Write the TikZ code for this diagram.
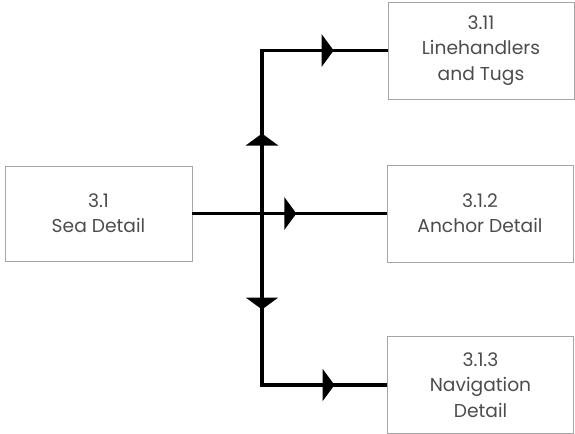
\documentclass[tikz,border=0pt]{standalone}
\usepackage{fontspec}
\setmainfont{Poppins}
\usetikzlibrary{arrows.meta,decorations.markings}
\tikzset{
  midtip/.tip={Triangle[length=9pt,width=24pt]},
  box/.style={draw=black!35,line width=.6pt,inner sep=0pt,minimum width=139.5pt,
    minimum height=72.75pt,align=center,text=black!70,font=\fontsize{14}{19}\selectfont},
  flow/.style={line width=2.4pt,line join=miter},
  tipat/.style={postaction={decorate,decoration={markings,
    mark=at position #1 with {\arrow{midtip}}}}}
}
\begin{document}
\begin{tikzpicture}[x=0.75pt,y=-0.75pt]
  \useasboundingbox (0,0) rectangle (575,433);
  \node[box,minimum width=140.25pt,minimum height=71.25pt] (sea) at (98.5,213.5) {3.1\\Sea Detail};
  \node[box] (tugs) at (481,50.5) {3.11\\Linehandlers\\and Tugs};
  \node[box] (anchor) at (480,213.5) {3.1.2\\Anchor Detail};
  \node[box] (nav) at (480.5,385) {3.1.3\\Navigation\\Detail};
  \coordinate (j) at (262,213.5);
  % from sea detail to the three details
  \draw[flow,tipat=78pt] (sea.east) -- (anchor.west);
  \draw[flow,tipat=60pt,tipat=176pt] (j) |- (tugs.west);
  \draw[flow,tipat=72pt,tipat=183pt] (j) |- (nav.west);
\end{tikzpicture}
\end{document}
